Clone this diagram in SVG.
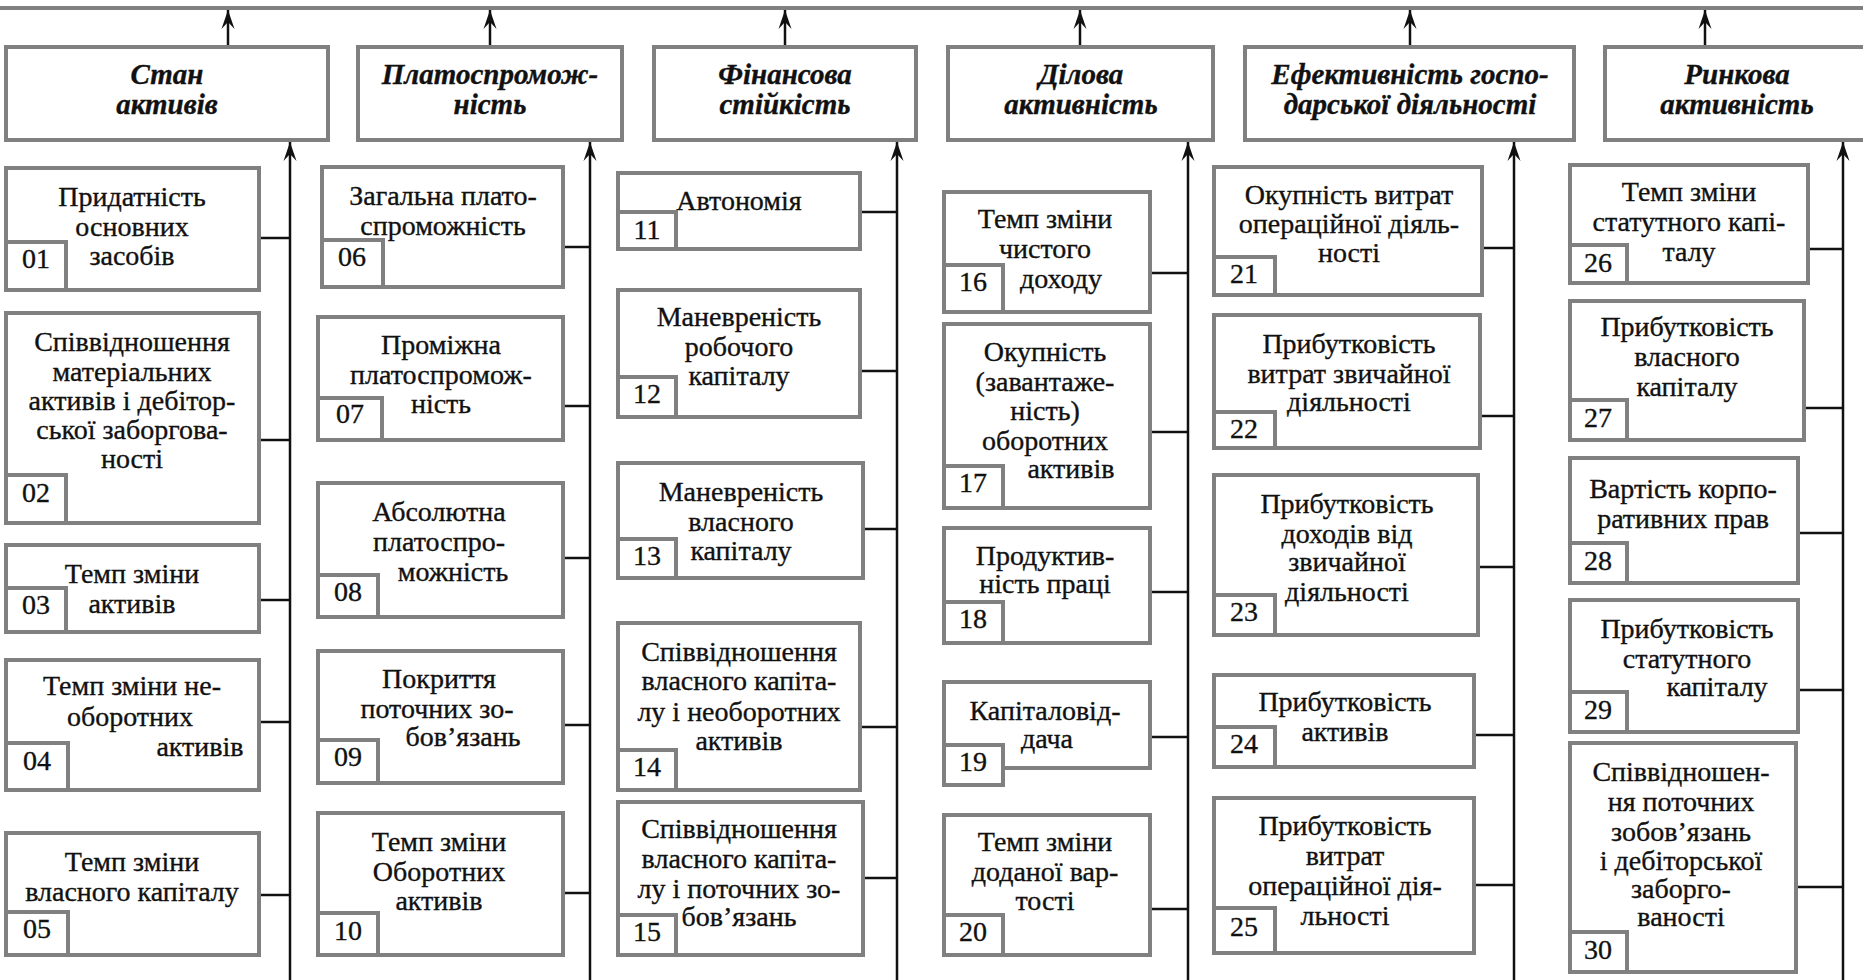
<svg xmlns="http://www.w3.org/2000/svg" width="1863" height="980" viewBox="0 0 1863 980" font-family="'Liberation Serif', 'Times New Roman', serif">
<defs>
<style>
.box{fill:#fff;stroke:#808080;stroke-width:4}
.t{font-family:'Liberation Serif', 'Times New Roman', serif;font-size:28px;fill:#111;stroke:#111;stroke-width:0.35;text-anchor:middle}
.h{font-weight:bold;font-style:italic;font-size:29px}
.c{stroke:#111;stroke-width:2.5;fill:none}
.a{stroke:#111;stroke-width:2.5;fill:none;marker-end:url(#arr)}
</style>
<marker id="arr" viewBox="-19 -7 20 14" refX="0" refY="0" markerWidth="20" markerHeight="14" markerUnits="userSpaceOnUse" orient="auto">
<path d="M0,0 L-19,-6.5 L-12,0 L-19,6.5 Z" fill="#111"/>
</marker>
</defs>
<rect width="1863" height="980" fill="#fff"/>
<line x1="-5" y1="8" x2="1870" y2="8" stroke="#808080" stroke-width="4"/>

<g id="connectors">
<line class="a" x1="228" y1="45" x2="228" y2="10"/>
<line class="a" x1="490" y1="45" x2="490" y2="10"/>
<line class="a" x1="785" y1="45" x2="785" y2="10"/>
<line class="a" x1="1080" y1="45" x2="1080" y2="10"/>
<line class="a" x1="1410" y1="45" x2="1410" y2="10"/>
<line class="a" x1="1705" y1="45" x2="1705" y2="10"/>
<line class="a" x1="290" y1="985" x2="290" y2="142"/>
<line class="a" x1="590" y1="985" x2="590" y2="142"/>
<line class="a" x1="897" y1="985" x2="897" y2="142"/>
<line class="a" x1="1188" y1="985" x2="1188" y2="142"/>
<line class="a" x1="1514" y1="985" x2="1514" y2="142"/>
<line class="a" x1="1843" y1="985" x2="1843" y2="142"/>
<line class="c" x1="259" y1="238" x2="290" y2="238"/>
<line class="c" x1="259" y1="440" x2="290" y2="440"/>
<line class="c" x1="259" y1="600" x2="290" y2="600"/>
<line class="c" x1="259" y1="722" x2="290" y2="722"/>
<line class="c" x1="259" y1="895" x2="290" y2="895"/>
<line class="c" x1="563" y1="247" x2="590" y2="247"/>
<line class="c" x1="563" y1="406" x2="590" y2="406"/>
<line class="c" x1="563" y1="558" x2="590" y2="558"/>
<line class="c" x1="563" y1="725" x2="590" y2="725"/>
<line class="c" x1="563" y1="893" x2="590" y2="893"/>
<line class="c" x1="860" y1="212" x2="897" y2="212"/>
<line class="c" x1="860" y1="371" x2="897" y2="371"/>
<line class="c" x1="863" y1="529" x2="897" y2="529"/>
<line class="c" x1="860" y1="727" x2="897" y2="727"/>
<line class="c" x1="863" y1="878" x2="897" y2="878"/>
<line class="c" x1="1150" y1="273" x2="1188" y2="273"/>
<line class="c" x1="1150" y1="432" x2="1188" y2="432"/>
<line class="c" x1="1150" y1="592" x2="1188" y2="592"/>
<line class="c" x1="1150" y1="737" x2="1188" y2="737"/>
<line class="c" x1="1150" y1="909" x2="1188" y2="909"/>
<line class="c" x1="1482" y1="248" x2="1514" y2="248"/>
<line class="c" x1="1480" y1="416" x2="1514" y2="416"/>
<line class="c" x1="1478" y1="567" x2="1514" y2="567"/>
<line class="c" x1="1474" y1="735" x2="1514" y2="735"/>
<line class="c" x1="1474" y1="885" x2="1514" y2="885"/>
<line class="c" x1="1808" y1="249" x2="1843" y2="249"/>
<line class="c" x1="1804" y1="408" x2="1843" y2="408"/>
<line class="c" x1="1798" y1="533" x2="1843" y2="533"/>
<line class="c" x1="1798" y1="690" x2="1843" y2="690"/>
<line class="c" x1="1796" y1="887" x2="1843" y2="887"/>
</g>

<g id="h1"><rect class="box" x="6" y="47" width="322" height="93"/><text class="t h" x="167" y="84">Стан</text><text class="t h" x="167" y="114">активів</text></g>
<g id="h2"><rect class="box" x="358" y="47" width="264" height="93"/><text class="t h" x="490" y="84">Платоспромож-</text><text class="t h" x="490" y="114">ність</text></g>
<g id="h3"><rect class="box" x="654" y="47" width="262" height="93"/><text class="t h" x="785" y="84">Фінансова</text><text class="t h" x="785" y="114">стійкість</text></g>
<g id="h4"><rect class="box" x="948" y="47" width="265" height="93"/><text class="t h" x="1081" y="84">Ділова</text><text class="t h" x="1081" y="114">активність</text></g>
<g id="h5"><rect class="box" x="1245" y="47" width="329" height="93"/><text class="t h" x="1410" y="84">Ефективність госпо-</text><text class="t h" x="1410" y="114">дарської діяльності</text></g>
<g id="h6"><rect class="box" x="1605" y="47" width="265" height="93"/><text class="t h" x="1737" y="84">Ринкова</text><text class="t h" x="1737" y="114">активність</text></g>

<g id="n01"><rect class="box" x="6" y="168" width="253" height="122"/><text class="t" x="132" y="206">Придатність</text><text class="t" x="132" y="236">основних</text><text class="t" x="132" y="265">засобів</text><rect class="box" x="6" y="242" width="60" height="48"/><text class="t" x="36" y="268">01</text></g>
<g id="n02"><rect class="box" x="6" y="313" width="253" height="210"/><text class="t" x="132" y="351">Співвідношення</text><text class="t" x="132" y="381">матеріальних</text><text class="t" x="132" y="410">активів і дебітор-</text><text class="t" x="132" y="439">ської заборгова-</text><text class="t" x="132" y="468">ності</text><rect class="box" x="6" y="475" width="60" height="48"/><text class="t" x="36" y="502">02</text></g>
<g id="n03"><rect class="box" x="6" y="545" width="253" height="87"/><text class="t" x="132" y="583">Темп зміни</text><text class="t" x="132" y="613">активів</text><rect class="box" x="6" y="588" width="60" height="44"/><text class="t" x="36" y="614">03</text></g>
<g id="n04"><rect class="box" x="6" y="660" width="253" height="130"/><text class="t" x="132" y="695">Темп зміни не-</text><text class="t" x="130" y="726">оборотних</text><text class="t" x="200" y="756">активів</text><rect class="box" x="6" y="743" width="62" height="47"/><text class="t" x="37" y="770">04</text></g>
<g id="n05"><rect class="box" x="6" y="833" width="253" height="122"/><text class="t" x="132" y="871">Темп зміни</text><text class="t" x="132" y="901">власного капіталу</text><rect class="box" x="6" y="912" width="62" height="43"/><text class="t" x="37" y="938">05</text></g>

<g id="n06"><rect class="box" x="322" y="167" width="241" height="120"/><text class="t" x="443" y="205">Загальна плато-</text><text class="t" x="443" y="235">спроможність</text><rect class="box" x="322" y="240" width="61" height="47"/><text class="t" x="352" y="266">06</text></g>
<g id="n07"><rect class="box" x="318" y="317" width="245" height="123"/><text class="t" x="441" y="354">Проміжна</text><text class="t" x="441" y="384">платоспромож-</text><text class="t" x="441" y="413">ність</text><rect class="box" x="318" y="398" width="64" height="42"/><text class="t" x="350" y="423">07</text></g>
<g id="n08"><rect class="box" x="318" y="483" width="245" height="134"/><text class="t" x="439" y="521">Абсолютна</text><text class="t" x="439" y="551">платоспро-</text><text class="t" x="453" y="581">можність</text><rect class="box" x="318" y="575" width="60" height="42"/><text class="t" x="348" y="601">08</text></g>
<g id="n09"><rect class="box" x="318" y="651" width="245" height="132"/><text class="t" x="439" y="688">Покриття</text><text class="t" x="437" y="718">поточних зо-</text><text class="t" x="463" y="746">бов’язань</text><rect class="box" x="318" y="740" width="60" height="43"/><text class="t" x="348" y="766">09</text></g>
<g id="n10"><rect class="box" x="318" y="813" width="245" height="142"/><text class="t" x="439" y="851">Темп зміни</text><text class="t" x="439" y="881">Оборотних</text><text class="t" x="439" y="910">активів</text><rect class="box" x="318" y="913" width="60" height="42"/><text class="t" x="348" y="940">10</text></g>

<g id="n11"><rect class="box" x="618" y="173" width="242" height="76"/><text class="t" x="739" y="210">Автономія</text><rect class="box" x="618" y="212" width="58" height="37"/><text class="t" x="647" y="239">11</text></g>
<g id="n12"><rect class="box" x="618" y="290" width="242" height="127"/><text class="t" x="739" y="326">Маневреність</text><text class="t" x="739" y="356">робочого</text><text class="t" x="739" y="385">капіталу</text><rect class="box" x="618" y="377" width="58" height="40"/><text class="t" x="647" y="403">12</text></g>
<g id="n13"><rect class="box" x="618" y="463" width="245" height="115"/><text class="t" x="741" y="501">Маневреність</text><text class="t" x="741" y="531">власного</text><text class="t" x="741" y="560">капіталу</text><rect class="box" x="618" y="539" width="58" height="39"/><text class="t" x="647" y="565">13</text></g>
<g id="n14"><rect class="box" x="618" y="623" width="242" height="167"/><text class="t" x="739" y="661">Співвідношення</text><text class="t" x="739" y="690">власного капіта-</text><text class="t" x="739" y="721">лу і необоротних</text><text class="t" x="739" y="750">активів</text><rect class="box" x="618" y="750" width="58" height="40"/><text class="t" x="647" y="776">14</text></g>
<g id="n15"><rect class="box" x="618" y="802" width="245" height="153"/><text class="t" x="739" y="838">Співвідношення</text><text class="t" x="739" y="868">власного капіта-</text><text class="t" x="739" y="898">лу і поточних зо-</text><text class="t" x="739" y="926">бов’язань</text><rect class="box" x="618" y="915" width="58" height="40"/><text class="t" x="647" y="941">15</text></g>

<g id="n16"><rect class="box" x="944" y="192" width="206" height="120"/><text class="t" x="1045" y="228">Темп зміни</text><text class="t" x="1045" y="258">чистого</text><text class="t" x="1061" y="288">доходу</text><rect class="box" x="944" y="265" width="59" height="47"/><text class="t" x="973" y="291">16</text></g>
<g id="n17"><rect class="box" x="944" y="324" width="206" height="184"/><text class="t" x="1045" y="361">Окупність</text><text class="t" x="1045" y="391">(завантаже-</text><text class="t" x="1045" y="420">ність)</text><text class="t" x="1045" y="450">оборотних</text><text class="t" x="1071" y="478">активів</text><rect class="box" x="944" y="466" width="59" height="42"/><text class="t" x="973" y="492">17</text></g>
<g id="n18"><rect class="box" x="944" y="528" width="206" height="115"/><text class="t" x="1045" y="565">Продуктив-</text><text class="t" x="1045" y="593">ність праці</text><rect class="box" x="944" y="602" width="59" height="41"/><text class="t" x="973" y="628">18</text></g>
<g id="n19"><rect class="box" x="944" y="682" width="206" height="86"/><text class="t" x="1045" y="720">Капіталовід-</text><text class="t" x="1047" y="748">дача</text><rect class="box" x="944" y="745" width="59" height="40"/><text class="t" x="973" y="771">19</text></g>
<g id="n20"><rect class="box" x="944" y="815" width="206" height="140"/><text class="t" x="1045" y="851">Темп зміни</text><text class="t" x="1045" y="881">доданої вар-</text><text class="t" x="1045" y="910">тості</text><rect class="box" x="944" y="915" width="59" height="40"/><text class="t" x="973" y="941">20</text></g>

<g id="n21"><rect class="box" x="1214" y="167" width="268" height="128"/><text class="t" x="1349" y="204">Окупність витрат</text><text class="t" x="1349" y="233">операційної діяль-</text><text class="t" x="1349" y="262">ності</text><rect class="box" x="1214" y="257" width="61" height="38"/><text class="t" x="1244" y="283">21</text></g>
<g id="n22"><rect class="box" x="1214" y="315" width="266" height="133"/><text class="t" x="1349" y="353">Прибутковість</text><text class="t" x="1349" y="383">витрат звичайної</text><text class="t" x="1349" y="411">діяльності</text><rect class="box" x="1214" y="412" width="61" height="36"/><text class="t" x="1244" y="438">22</text></g>
<g id="n23"><rect class="box" x="1214" y="475" width="264" height="160"/><text class="t" x="1347" y="513">Прибутковість</text><text class="t" x="1347" y="543">доходів від</text><text class="t" x="1347" y="571">звичайної</text><text class="t" x="1347" y="601">діяльності</text><rect class="box" x="1214" y="595" width="61" height="40"/><text class="t" x="1244" y="621">23</text></g>
<g id="n24"><rect class="box" x="1214" y="675" width="260" height="92"/><text class="t" x="1345" y="711">Прибутковість</text><text class="t" x="1345" y="741">активів</text><rect class="box" x="1214" y="727" width="61" height="40"/><text class="t" x="1244" y="753">24</text></g>
<g id="n25"><rect class="box" x="1214" y="798" width="260" height="155"/><text class="t" x="1345" y="835">Прибутковість</text><text class="t" x="1345" y="865">витрат</text><text class="t" x="1345" y="895">операційної дія-</text><text class="t" x="1345" y="925">льності</text><rect class="box" x="1214" y="908" width="61" height="45"/><text class="t" x="1244" y="936">25</text></g>

<g id="n26"><rect class="box" x="1570" y="165" width="238" height="118"/><text class="t" x="1689" y="201">Темп зміни</text><text class="t" x="1689" y="231">статутного капі-</text><text class="t" x="1689" y="261">талу</text><rect class="box" x="1570" y="245" width="57" height="38"/><text class="t" x="1598" y="272">26</text></g>
<g id="n27"><rect class="box" x="1570" y="301" width="234" height="139"/><text class="t" x="1687" y="336">Прибутковість</text><text class="t" x="1687" y="366">власного</text><text class="t" x="1687" y="396">капіталу</text><rect class="box" x="1570" y="400" width="57" height="40"/><text class="t" x="1598" y="427">27</text></g>
<g id="n28"><rect class="box" x="1570" y="458" width="228" height="125"/><text class="t" x="1683" y="498">Вартість корпо-</text><text class="t" x="1683" y="528">ративних прав</text><rect class="box" x="1570" y="543" width="57" height="40"/><text class="t" x="1598" y="570">28</text></g>
<g id="n29"><rect class="box" x="1570" y="600" width="228" height="132"/><text class="t" x="1687" y="638">Прибутковість</text><text class="t" x="1687" y="668">статутного</text><text class="t" x="1717" y="696">капіталу</text><rect class="box" x="1570" y="692" width="57" height="40"/><text class="t" x="1598" y="719">29</text></g>
<g id="n30"><rect class="box" x="1570" y="743" width="226" height="229"/><text class="t" x="1681" y="781">Співвідношен-</text><text class="t" x="1681" y="811">ня поточних</text><text class="t" x="1681" y="841">зобов’язань</text><text class="t" x="1681" y="870">і дебіторської</text><text class="t" x="1681" y="898">заборго-</text><text class="t" x="1681" y="926">ваності</text><rect class="box" x="1570" y="932" width="57" height="40"/><text class="t" x="1598" y="959">30</text></g>
</svg>
